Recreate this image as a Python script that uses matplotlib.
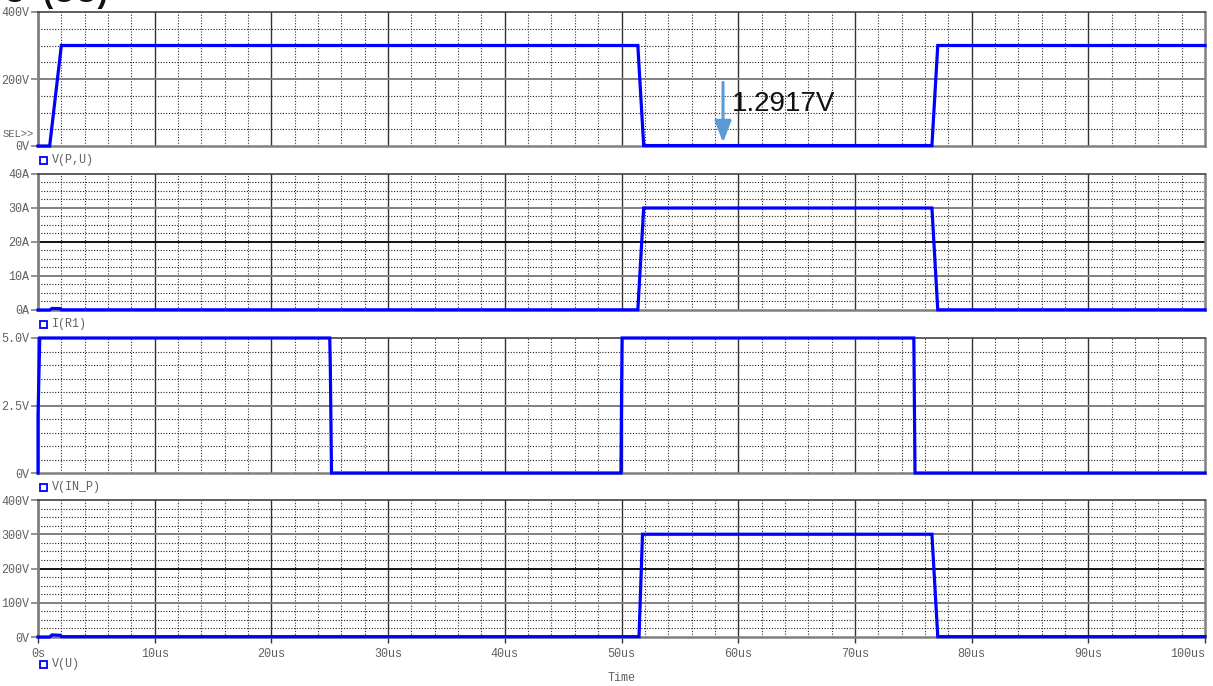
import matplotlib
matplotlib.use("Agg")
import matplotlib.pyplot as plt
from matplotlib.patches import Rectangle

# time in us
t_pu = [0, 1.0, 2.0, 51.4, 51.9, 76.6, 77.1, 100]
v_pu = [0, 0, 300, 300, 1.29, 1.29, 300, 300]

t_ir1 = [0, 1.0, 1.2, 1.9, 2.0, 51.4, 51.9, 76.6, 77.1, 100]
i_r1 = [0, 0, 0.45, 0.4, 0.05, 0.05, 30, 30, 0.05, 0.05]

t_in = [0, 0.0, 0.15, 25.0, 25.05, 25.15, 49.95, 50.05, 75.05, 75.15, 100]
v_in = [0, 2.1, 5.0, 5.0, 3.9, 0, 0, 5.0, 5.0, 0, 0]

t_u = [0, 1.0, 1.2, 1.9, 2.0, 51.5, 51.8, 76.6, 77.1, 100]
v_u = [0, 0, 6, 5, 1, 1, 300, 300, 1, 1]

trace_names = ["V(P,U)", "I(R1)", "V(IN_P)", "V(U)"]
x_ticks = [0, 10, 20, 30, 40, 50, 60, 70, 80, 90, 100]
x_labels = ["0s", "10us", "20us", "30us", "40us", "50us", "60us", "70us", "80us", "90us", "100us"]

y_setup = [
  dict(top=400, major=[0, 200, 400], labels=["0V", "200V", "400V"], minor=50, dark=[]),
  dict(top=40, major=[0, 10, 20, 30, 40], labels=["0A", "10A", "20A", "30A", "40A"], minor=2.5, dark=[20]),
  dict(top=5, major=[0, 2.5, 5], labels=["0V", "2.5V", "5.0V"], minor=0.5, dark=[]),
  dict(top=400, major=[0, 100, 200, 300, 400], labels=["0V", "100V", "200V", "300V", "400V"], minor=25, dark=[200]),
]

cursor_t = 58.7
cursor_label = "1.2917V"

W, H = 1213, 686
fig = plt.figure(figsize=(W / 100, H / 100), dpi=100)

# panel boxes in pixels (top, bottom)
boxes = [(12, 146), (174, 310), (338, 473), (500, 637)]
left_px, right_px = 38, 1205
mono = "Liberation Mono"
grey = "#606060"

series = [(t_pu, v_pu), (t_ir1, i_r1), (t_in, v_in), (t_u, v_u)]
axes = []
for k, (top_px, bot_px) in enumerate(boxes):
  ax = fig.add_axes([left_px / W, 1 - bot_px / H, (right_px - left_px) / W, (bot_px - top_px) / H])
  cfg = y_setup[k]
  ax.set_xlim(0, 100)
  ax.set_ylim(0, cfg["top"])

  # dotted minor grid
  xm = 0
  while xm < 100:
    if xm % 10 != 0:
      ax.axvline(xm, color="#333333", lw=0.8, ls=(0, (1, 1.5)), zorder=1)
    xm += 2
  ym = cfg["minor"]
  while ym < cfg["top"] - 1e-9:
    if all(abs(ym - m) > 1e-9 for m in cfg["major"]):
      ax.axhline(ym, color="#222222", lw=0.8, ls=(0, (1, 1.5)), zorder=1)
    ym += cfg["minor"]
  # solid major grid
  for xv in x_ticks[1:-1]:
    ax.axvline(xv, color="#333333", lw=1.0, zorder=1.5)
  for yv in cfg["major"][1:-1]:
    c = "#111111" if yv in cfg["dark"] else "#808080"
    ax.axhline(yv, color=c, lw=1.4, zorder=1.5)

  tx, ty = series[k]
  ax.plot(tx, ty, color="#0000ff", lw=2.3, zorder=3, clip_on=False, solid_joinstyle="miter")

  ax.set_yticks(cfg["major"])
  ax.set_yticklabels(cfg["labels"], fontfamily=mono, fontsize=8.5, color=grey)
  ax.tick_params(axis="y", length=5, width=1.2, color="#808080", pad=1)
  ax.set_xticks(x_ticks)
  if k == 3:
    ax.set_xticklabels(x_labels, fontfamily=mono, fontsize=8.5, color=grey)
    ax.tick_params(axis="x", length=4, width=1, color="#333333", pad=4)
    ax.get_xticklabels()[-1].set_ha("right")
  else:
    ax.tick_params(axis="x", length=0, labelbottom=False)

  ax.spines["top"].set_color("#444444")
  ax.spines["top"].set_linewidth(1.2)
  ax.spines["bottom"].set_color("#808080")
  ax.spines["bottom"].set_linewidth(1.8)
  ax.spines["left"].set_color("#808080")
  ax.spines["left"].set_linewidth(2.0)
  ax.spines["right"].set_color("#808080")
  ax.spines["right"].set_linewidth(1.8)
  axes.append(ax)

  # trace name below each panel
  ly_px = bot_px + 14 if k < 3 else 664
  ly = 1 - ly_px / H
  fig.add_artist(Rectangle((40 / W, 1 - (ly_px + 4) / H), 7 / W, 7 / H, transform=fig.transFigure,
                           fill=False, edgecolor="#0000ff", lw=1.3))
  fig.text(52 / W, ly, trace_names[k], color=grey, fontfamily=mono, fontsize=8.5, va="center", ha="left")

fig.text(3 / W, 1 - 134 / H, "SEL>>", color=grey, fontfamily=mono, fontsize=7.5, va="center", ha="left")
fig.text(622 / W, 1 - 678 / H, "Time", color=grey, fontfamily=mono, fontsize=8.5, va="center", ha="center")

# cut-off heading at the very top
fig.text(4 / W, 1 - 2 / H, "U  (UU)", color="#111111", fontsize=22, fontweight="bold",
         fontfamily="Liberation Sans", va="baseline", ha="left")

# cursor arrow and value
axes[0].annotate("", xy=(cursor_t, 2), xytext=(cursor_t, 198),
                 arrowprops=dict(arrowstyle="-|>,head_width=0.5,head_length=1.3", color="#5b9bd5", lw=2.2),
                 zorder=4)
axes[0].text(cursor_t + 0.8, 125, cursor_label, fontsize=20, fontfamily="Liberation Sans",
             color="#111111", va="center", ha="left", zorder=4)

fig.savefig("out.png", dpi=100)
